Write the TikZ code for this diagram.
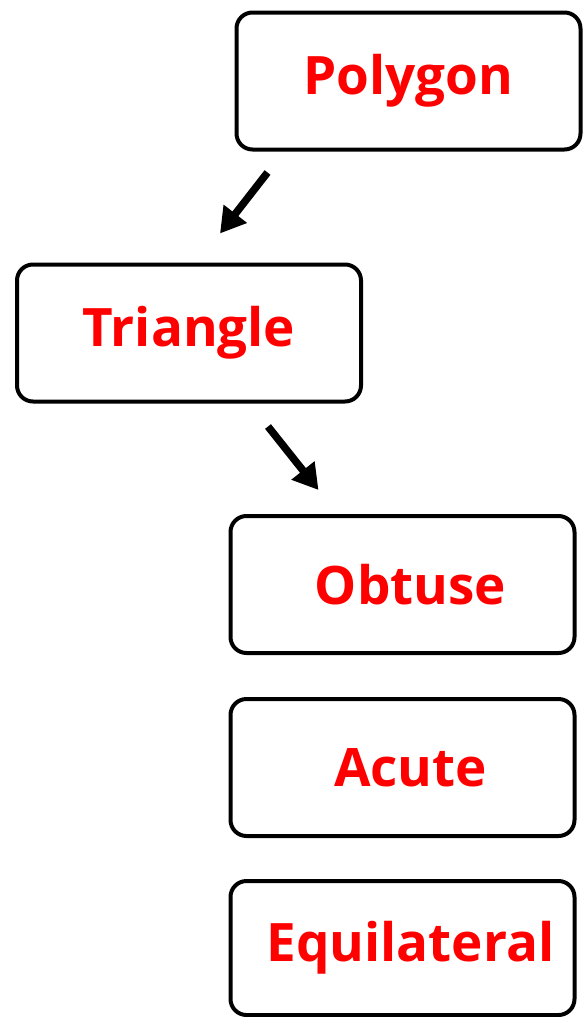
\documentclass[tikz,border=0pt]{standalone}
\usepackage{fontspec}
\setmainfont{Open Sans}
\usetikzlibrary{arrows.meta}

\begin{document}
\begin{tikzpicture}[x=1pt, y=-1pt,
    shapebox/.style={draw, line width=4pt, rounded corners=16pt,
      minimum width=344pt, minimum height=137pt,
      text=red, font=\fontsize{53}{58}\selectfont\bfseries},
    rightish/.style={execute at begin node=\hspace*{16pt}},
    arr/.style={line width=7.5pt, -{Triangle[length=25pt,width=28pt]}}]
  \useasboundingbox (0,0) rectangle (585,1017);

  \node [shapebox] (polygon) at (408.5,81) {Polygon};
  \node [shapebox] (triangle) at (189,333) {Triangle};
  \node [shapebox, rightish] (obtuse) at (402.5,584.5) {Obtuse};
  \node [shapebox, rightish] (acute) at (402.5,767.5) {Acute};
  \node [shapebox, rightish, minimum height=134pt] (equilateral) at (402.5,948) {Equilateral};

  \draw [arr] ([xshift=33pt,yshift=-21pt]polygon.south west) -- ([xshift=31pt,yshift=29pt]triangle.north);
  \draw [arr] ([xshift=79pt,yshift=-23pt]triangle.south) -- ([xshift=90pt,yshift=24pt]obtuse.north west);
\end{tikzpicture}
\end{document}
